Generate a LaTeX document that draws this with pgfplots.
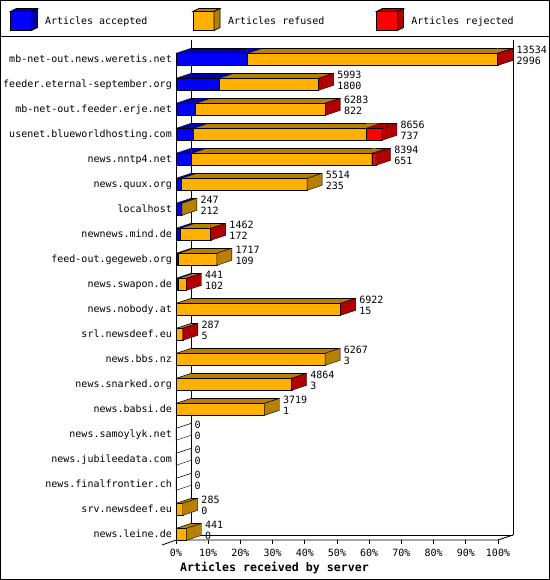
\documentclass[border=0pt]{standalone}
\usepackage{pgfplots}
\pgfplotsset{compat=1.18}
\usepackage{pgfplotstable}
\usepackage{fontspec}
\setmainfont{DejaVu Sans Mono}

\definecolor{bfr}{RGB}{0,0,255}
\definecolor{bdk}{RGB}{0,0,176}
\definecolor{gfr}{RGB}{255,176,0}
\definecolor{gdk}{RGB}{184,128,0}
\definecolor{rfr}{RGB}{255,0,0}
\definecolor{rdk}{RGB}{176,0,0}

% 3d pieces of a bar, drawn relative to the bar end (front centre)
\pgfdeclareplotmark{tri}{%
  \pgfpathmoveto{\pgfpoint{0bp}{6bp}}%
  \pgfpathlineto{\pgfpoint{15bp}{11bp}}%
  \pgfpathlineto{\pgfpoint{0bp}{11bp}}%
  \pgfpathclose
  \pgfusepath{fill}}
\pgfdeclareplotmark{slant}{%
  \pgfpathmoveto{\pgfpoint{0bp}{6bp}}%
  \pgfpathlineto{\pgfpoint{15bp}{11bp}}%
  \pgfusepath{stroke}}
\pgfdeclareplotmark{side}{%
  \pgfpathmoveto{\pgfpoint{0bp}{-6bp}}%
  \pgfpathlineto{\pgfpoint{0bp}{6bp}}%
  \pgfpathlineto{\pgfpoint{15bp}{11bp}}%
  \pgfpathlineto{\pgfpoint{15bp}{-1bp}}%
  \pgfpathclose
  \pgfusepathqfillstroke
  \pgfpathmoveto{\pgfpoint{0bp}{11bp}}%
  \pgfpathlineto{\pgfpoint{15bp}{11bp}}%
  \pgfusepathqstroke}
\pgfdeclareplotmark{tzero}{%
  \pgfpathmoveto{\pgfpoint{0bp}{6bp}}%
  \pgfpathlineto{\pgfpoint{15bp}{11bp}}%
  \pgfpathlineto{\pgfpoint{15bp}{11.7bp}}%
  \pgfpathlineto{\pgfpoint{-0.6bp}{11.7bp}}%
  \pgfpathlineto{\pgfpoint{-0.6bp}{6bp}}%
  \pgfpathclose
  \pgfsetfillcolor{white}\pgfusepath{fill}%
  \pgfpathmoveto{\pgfpoint{0bp}{6bp}}%
  \pgfpathlineto{\pgfpoint{15bp}{11bp}}%
  \pgfsetstrokecolor{black}\pgfusepath{stroke}}

% y: row (19 = top), c1 = accepted, c2 = accepted+refused, c3 = offered
\pgfplotstableread{
y c1 c2 c3 z cls
19 2996 13494 13534 0 r
18 1800 5973 5993 0 r
17 822 6263 6283 0 r
16 737 7976 8656 0 r
15 651 8226 8394 0 r
14 235 5514 5514 0 g
13 212 247 247 0 g
12 172 1452 1462 0 r
11 109 1717 1717 0 g
10 102 436 441 0 r
9 15 6912 6922 0 r
8 5 282 287 0 r
7 3 6267 6267 0 g
6 3 4854 4864 0 r
5 1 3719 3719 0 g
4 0 0 0 0 w
3 0 0 0 0 w
2 0 0 0 0 w
1 0 285 285 0 g
0 0 441 441 0 g
}\data

\newcommand\legbox[3]{%
  \fill[#2] (#1,549.5) rectangle ++(21,19);
  \draw (#1,549.5) rectangle ++(21,19);
  \filldraw[fill=#3] (#1,568.5) -- ++(21,0) -- ++(6,3) -- ++(-21,0) -- cycle;
  \filldraw[fill=#3] (#1+21,549.5) -- ++(6,3) -- ++(0,19) -- ++(-6,-3) -- cycle;
}

\begin{document}
\fontsize{10bp}{12bp}\selectfont
\begin{tikzpicture}[x=1bp,y=1bp,line width=0.8bp]
\useasboundingbox (0,0) rectangle (550,580);
\draw (0.5,0.5) rectangle (549.5,579.5);
\draw (0,543.2) -- (550,543.2);

% legend
\legbox{10.5}{bfr}{bdk}
\legbox{193}{gfr}{gdk}
\legbox{376.5}{rfr}{rdk}
\node[anchor=base west, inner sep=0pt] at (44.6,555.4) {Articles accepted};
\node[anchor=base west, inner sep=0pt] at (227.7,555.4) {Articles refused};
\node[anchor=base west, inner sep=0pt] at (410.9,555.4) {Articles rejected};

% back walls and floor
\draw (191,45) -- (191,540);
\draw (513,45) -- (513,540);
\draw (191,45) -- (513,45);
\draw (162,35) -- (176,40) -- (191,45);
\draw (176,40) -- (498,40) -- (513,45);

\begin{axis}[at={(176bp,40bp)}, anchor=south west, scale only axis,
  width=322bp, height=487bp,
  xmin=0, xmax=13534, ymin=-0.228, ymax=19.252, clip=false,
  scaled x ticks=false, scaled y ticks=false,
  axis line style={draw=none},
  xtick={0,1353.4,2706.8,4060.2,5413.6,6767,8120.4,9473.8,10827.2,12180.6,13534},
  xticklabels={0\%,10\%,20\%,30\%,40\%,50\%,60\%,70\%,80\%,90\%,100\%},
  xtick pos=bottom, tick align=outside, major tick length=4bp,
  xtick style={black, line width=0.8bp},
  ytick={0,...,19},
  yticklabels={news.leine.de,srv.newsdeef.eu,news.finalfrontier.ch,news.jubileedata.com,news.samoylyk.net,news.babsi.de,news.snarked.org,news.bbs.nz,srl.newsdeef.eu,news.nobody.at,news.swapon.de,feed-out.gegeweb.org,newnews.mind.de,localhost,news.quux.org,news.nntp4.net,usenet.blueworldhosting.com,mb-net-out.feeder.erje.net,feeder.eternal-september.org,mb-net-out.news.weretis.net},
  ytick pos=left, ytick style={draw=none},
  ticklabel style={font=\fontsize{10bp}{12bp}\selectfont},
  yticklabel style={anchor=east, inner sep=0pt, xshift=0bp, text height=7.5bp, text depth=2bp},
  xticklabel style={anchor=center, inner sep=0pt, yshift=-8.5bp},
]
% top faces
\addplot[xbar, bar width=5bp, bar shift=8.5bp, fill=rdk, draw=none] table[x=c3,y=y]{\data};
\addplot[xbar, bar width=5bp, bar shift=8.5bp, fill=gdk, draw=none] table[x=c2,y=y]{\data};
\addplot[xbar, bar width=5bp, bar shift=8.5bp, fill=bdk, draw=none] table[x=c1,y=y]{\data};
\addplot[scatter, only marks, scatter src=explicit symbolic,
  scatter/classes={r={mark=tri,fill=rdk,draw=none},g={mark=tri,fill=gdk,draw=none},w={mark=tri,fill=white,draw=none}}]
  table[x=c3,y=y,meta=cls]{\data};
\addplot[only marks, mark=tri, mark options={fill=gdk,draw=none}] table[x=c2,y=y]{\data};
\addplot[only marks, mark=tri, mark options={fill=bdk,draw=none}] table[x=c1,y=y]{\data};
\addplot[xbar, bar width=0.01bp, bar shift=11bp, fill=none, draw=black] table[x=c3,y=y]{\data};
\addplot[only marks, mark=slant, mark options={draw=black}] table[x=c2,y=y]{\data};
\addplot[only marks, mark=slant, mark options={draw=black}] table[x=c1,y=y]{\data};
% side faces
\addplot[scatter, only marks, scatter src=explicit symbolic,
  scatter/classes={r={mark=side,fill=rdk,draw=black},g={mark=side,fill=gdk,draw=black},w={mark=side,fill=white,draw=black}}]
  table[x=c3,y=y,meta=cls]{\data};
\addplot[only marks, mark=tzero] table[x=z,y=y]{\data};
% front faces
\addplot[xbar, bar width=12bp, bar shift=0pt, fill=rfr, draw=black] table[x=c3,y=y]{\data};
\addplot[xbar, bar width=12bp, bar shift=0pt, fill=gfr, draw=black] table[x=c2,y=y]{\data};
\addplot[xbar, bar width=12bp, bar shift=0pt, fill=bfr, draw=black] table[x=c1,y=y]{\data};
% value labels
\addplot[draw=none, nodes near coords, point meta=explicit symbolic,
  every node near coord/.append style={anchor=west, inner sep=0pt, xshift=18.5bp, yshift=9.1bp,
    text height=7.3bp, text depth=0pt, font=\fontsize{10bp}{12bp}\selectfont, black}]
  table[x=c3,y=y,meta=c3]{\data};
\addplot[draw=none, nodes near coords, point meta=explicit symbolic,
  every node near coord/.append style={anchor=west, inner sep=0pt, xshift=18.5bp, yshift=-1.9bp,
    text height=7.3bp, text depth=0pt, font=\fontsize{10bp}{12bp}\selectfont, black}]
  table[x=c3,y=y,meta=c1]{\data};
\end{axis}

\draw (176,40) -- (176,527);
\node[anchor=base west, inner sep=0pt, font=\bfseries\fontsize{11.6bp}{14bp}\selectfont] at (180,8.7) {Articles received by server};
\end{tikzpicture}
\end{document}
